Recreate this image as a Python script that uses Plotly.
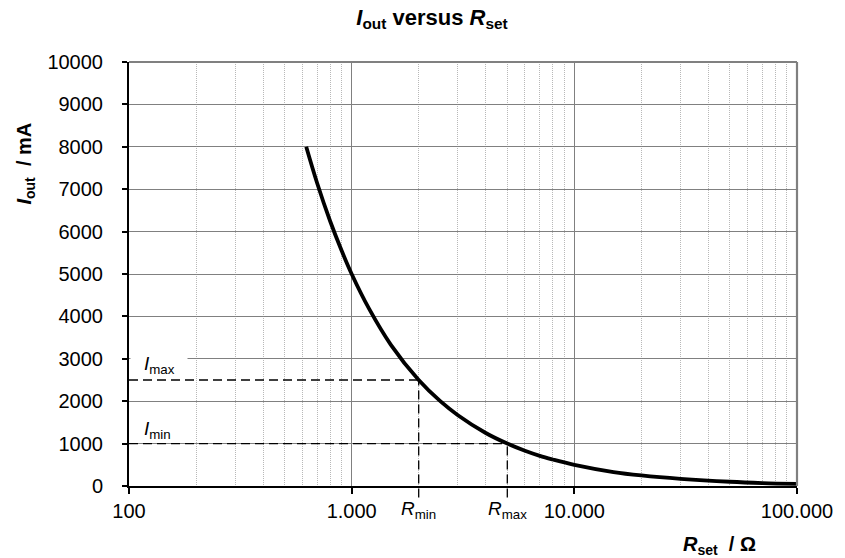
import math
import plotly.graph_objects as go

# Data
r_set = [625, 700, 800, 900, 1000, 1200, 1500, 2000, 2500, 3000, 4000, 5000,
         6000, 7000, 8000, 10000, 15000, 20000, 30000, 50000, 70000, 100000]
i_out = [8000, 7140, 6250, 5560, 5000, 4170, 3330, 2500, 2000, 1670, 1250, 1000,
         830, 710, 625, 500, 330, 250, 170, 100, 70, 50]

r_min, r_max = 2000, 5000
i_max, i_min = 2500, 1000

x_tickvals = [100, 1000, 10000, 100000]
x_ticktext = ["100", "1.000", "10.000", "100.000"]
y_tickvals = list(range(0, 10001, 1000))
y_ticktext = [str(v) for v in y_tickvals]

FONT = "Liberation Sans"
W, H = 845, 558
ML, MR, MT, MB = 129, 38, 62, 72
PW, PH = W - ML - MR, H - MT - MB

fig = go.Figure()
fig.add_trace(go.Scatter(x=r_set, y=i_out, mode="lines",
                         line=dict(color="black", width=3.8, shape="spline"),
                         showlegend=False, hoverinfo="skip"))

# gray frame on top and right
frame = dict(color="#808080", width=2.2)
fig.add_shape(type="line", xref="x domain", yref="y domain", x0=0, x1=1, y0=1, y1=1, line=frame)
fig.add_shape(type="line", xref="x domain", yref="y domain", x0=1, x1=1, y0=0, y1=1, line=frame)

dash = dict(color="black", width=1.3, dash="9px,5px")
# horizontal dashed lines to curve
fig.add_shape(type="line", xref="x", yref="y", x0=100, x1=r_min, y0=i_max, y1=i_max, line=dash)
fig.add_shape(type="line", xref="x", yref="y", x0=100, x1=r_max, y0=i_min, y1=i_min, line=dash)
# vertical dashed lines, extending below the axis
fig.add_shape(type="line", xref="x", yref="y domain", x0=r_min, x1=r_min, y0=-0.027, y1=i_max / 10000, line=dash)
fig.add_shape(type="line", xref="x", yref="y domain", x0=r_max, x1=r_max, y0=-0.027, y1=i_min / 10000, line=dash)

# white gap in the 3000 gridline behind the I_max label
fig.add_annotation(x=0, xref="x domain", y=3000, yref="y", xanchor="left", yanchor="middle",
                   text=" ", showarrow=False, width=56, height=3, bgcolor="white",
                   borderpad=0, font=dict(size=2), xshift=1)

ann_font = dict(family=FONT, size=19, color="black")
fig.add_annotation(x=0, xref="x domain", y=3000, yref="y", yanchor="middle", xanchor="left",
                   text="<i>I</i><sub>max</sub>", showarrow=False, font=ann_font,
                   xshift=13, yshift=-6)
fig.add_annotation(x=0, xref="x domain", y=1000, yref="y", yanchor="bottom", xanchor="left",
                   text="<i>I</i><sub>min</sub>", showarrow=False, font=ann_font,
                   xshift=13, yshift=0)
fig.add_annotation(x=math.log10(r_min), xref="x", y=0, yref="y", yanchor="top", xanchor="center",
                   text="<i>R</i><sub>min</sub>", showarrow=False, font=ann_font, yshift=-10)
fig.add_annotation(x=math.log10(r_max), xref="x", y=0, yref="y", yanchor="top", xanchor="center",
                   text="<i>R</i><sub>max</sub>", showarrow=False, font=ann_font, yshift=-10)

# axis titles
title_font = dict(family=FONT, size=20, color="black")
fig.add_annotation(x=(728 - ML) / PW, xref="paper", y=-(545 - (H - MB)) / PH, yref="paper",
                   xanchor="center", yanchor="middle",
                   showarrow=False, text="<b><i>R</i><sub>set</sub>  / Ω</b>", font=title_font)
fig.add_annotation(x=-(ML - 23) / PW, xref="paper", y=((H - MB) - 164) / PH, yref="paper",
                   xanchor="center", yanchor="middle",
                   showarrow=False, textangle=-90,
                   text="<b><i>I</i><sub>out</sub>  / mA</b>", font=title_font)

fig.update_layout(
    width=W, height=H,
    margin=dict(l=ML, r=MR, t=MT, b=MB),
    paper_bgcolor="white", plot_bgcolor="white",
    font=dict(family=FONT, size=20, color="black"),
    title=dict(text="<b><i>I</i><sub>out</sub> versus <i>R</i><sub>set</sub></b>",
               x=432 / W, xanchor="center", y=1 - 17 / H, yanchor="middle",
               font=dict(family=FONT, size=22, color="black")),
)

fig.update_xaxes(type="log", range=[2, 5], tickvals=x_tickvals, ticktext=x_ticktext,
                 showline=True, linecolor="black", linewidth=2,
                 ticks="outside", ticklen=6, tickcolor="black", tickwidth=1.5,
                 showgrid=True, gridcolor="#808080", gridwidth=1.2,
                 minor=dict(dtick="D1", showgrid=True, gridcolor="#b8b8b8", griddash="1px,1px",
                            gridwidth=1, ticks=""),
                 tickfont=dict(family=FONT, size=20), zeroline=False)
fig.update_yaxes(range=[0, 10000], tickvals=y_tickvals, ticktext=y_ticktext,
                 showline=True, linecolor="black", linewidth=2,
                 ticks="outside", ticklen=5, tickcolor="black", tickwidth=1.5,
                 ticklabelstandoff=15,
                 showgrid=True, gridcolor="#808080", gridwidth=1.2,
                 tickfont=dict(family=FONT, size=20), zeroline=False)

fig.write_html("out.html", config={"displayModeBar": False},
               post_script="document.body.style.margin='0';")
